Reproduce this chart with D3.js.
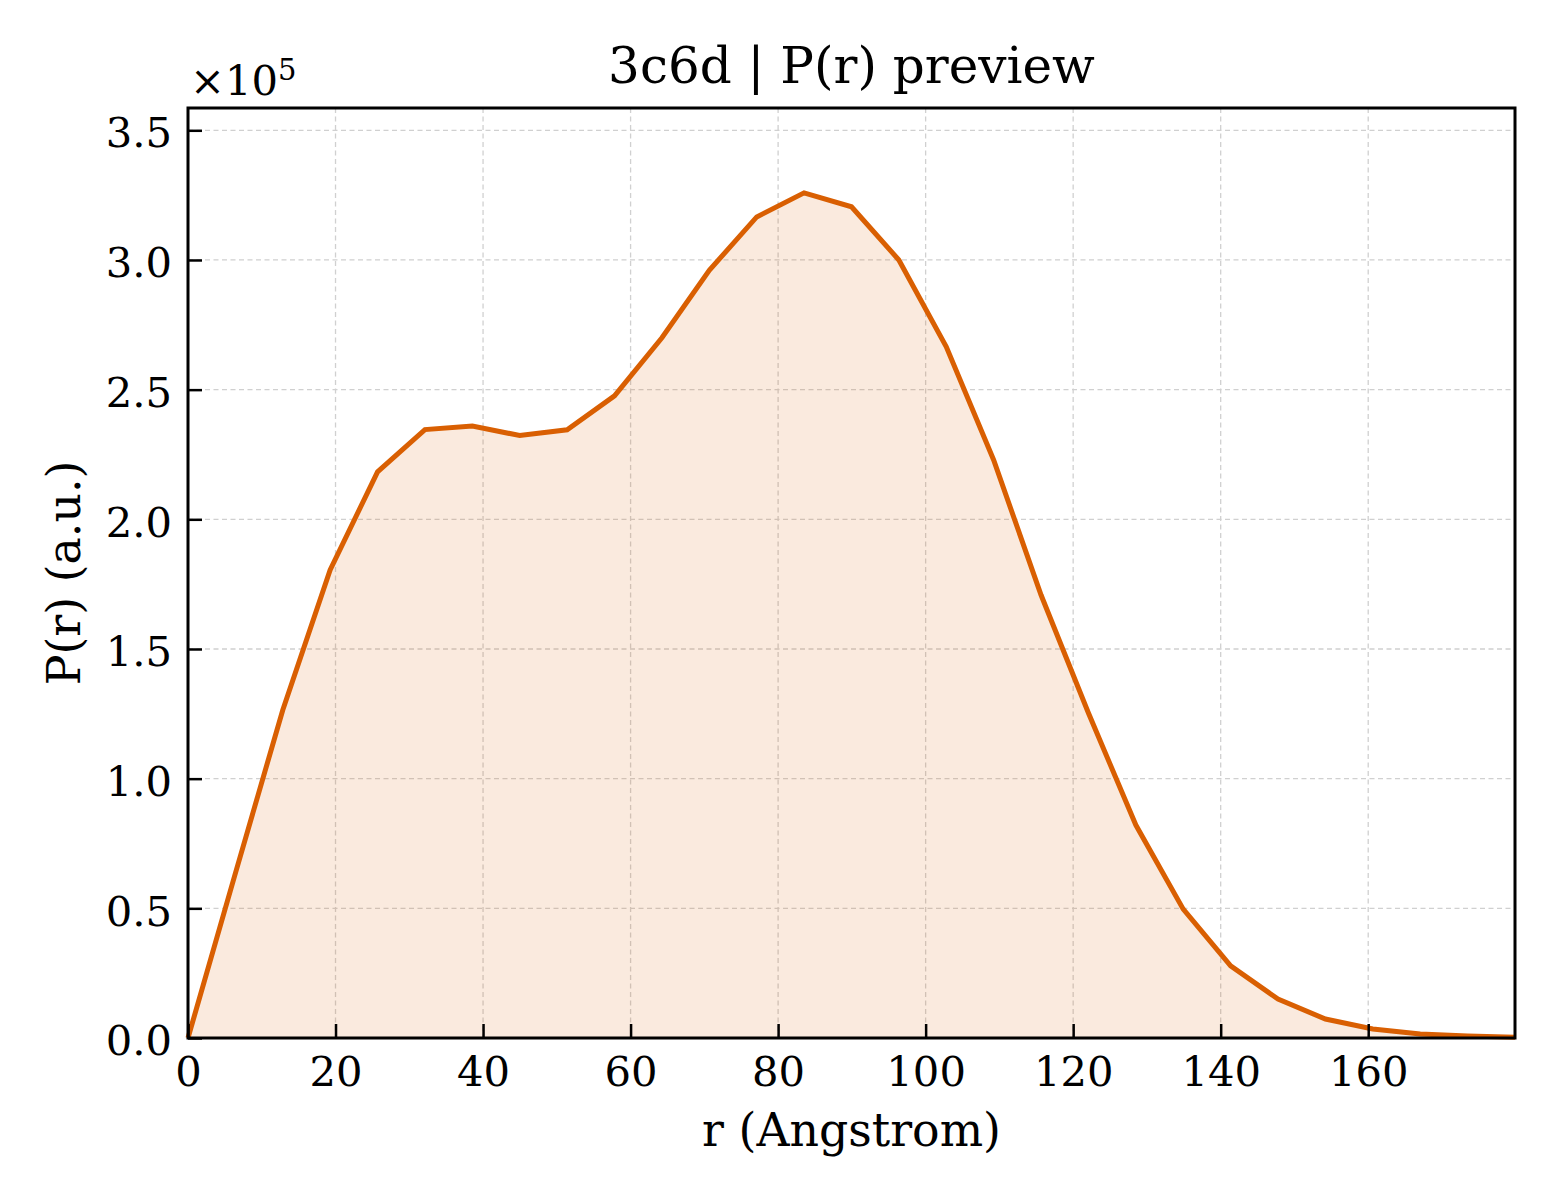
<!DOCTYPE html>
<html>
<head>
<meta charset="utf-8">
<script src="https://cdn.jsdelivr.net/npm/d3@7"></script>
<style>
  html, body { margin: 0; padding: 0; background: #fff; }
  svg { display: block; }
  text { font-family: "DejaVu Serif", serif; fill: #000; }
</style>
</head>
<body>
<svg id="chart" width="1560" height="1200"></svg>
<script>
// r grid (Angstrom)
const rValues = [0, 6.42, 12.85, 19.27, 25.70, 32.12, 38.55, 44.97, 51.40, 57.82,
  64.25, 70.67, 77.10, 83.52, 89.95, 96.37, 102.80, 109.22, 115.65, 122.07,
  128.50, 134.92, 141.35, 147.77, 154.20, 160.62, 167.05, 173.47, 179.90];
// P(r) values (a.u.)
const prValues = [0, 63500, 126500, 180500, 218300, 234600, 236000, 232300, 234500, 247600,
  270000, 296000, 316600, 325900, 320500, 300000, 266500, 222900, 170800, 125300,
  82100, 49700, 27800, 15000, 7300, 3500, 1500, 800, 300];
const xTicks = [0, 20, 40, 60, 80, 100, 120, 140, 160];
const yTicks = [0, 50000, 100000, 150000, 200000, 250000, 300000, 350000];
const yTickLabels = ["0.0", "0.5", "1.0", "1.5", "2.0", "2.5", "3.0", "3.5"];
const titleText = "3c6d | P(r) preview";
const xLabel = "r (Angstrom)";
const yLabel = "P(r) (a.u.)";

const data = rValues.map((r, i) => ({ r, p: prValues[i] }));

const margin = { left: 188, right: 1560 - 1515, top: 108, bottom: 1200 - 1038 };
const W = 1560, H = 1200;
const iw = W - margin.left - margin.right;
const ih = H - margin.top - margin.bottom;

const svg = d3.select("#chart");
const g = svg.append("g").attr("transform", `translate(${margin.left},${margin.top})`);

const x = d3.scaleLinear().domain([0, 179.9]).range([0, iw]);
const y = d3.scaleLinear().domain([0, 358600]).range([ih, 0]);

// grid
const grid = g.append("g");
grid.selectAll("line.gx").data(xTicks.slice(1)).join("line")
  .attr("x1", d => x(d)).attr("x2", d => x(d)).attr("y1", 0).attr("y2", ih)
  .attr("stroke", "#d0d0d0").attr("stroke-width", 1.3).attr("stroke-dasharray", "5,3.5");
grid.selectAll("line.gy").data(yTicks.slice(1)).join("line")
  .attr("x1", 0).attr("x2", iw).attr("y1", d => y(d)).attr("y2", d => y(d))
  .attr("stroke", "#d0d0d0").attr("stroke-width", 1.3).attr("stroke-dasharray", "5,3.5");

// area
const area = d3.area().x(d => x(d.r)).y0(y(0)).y1(d => y(d.p));
g.append("path").datum(data).attr("d", area)
  .attr("fill", "#d95f02").attr("fill-opacity", 0.13);

// line
const line = d3.line().x(d => x(d.r)).y(d => y(d.p));
g.append("path").datum(data).attr("d", line)
  .attr("fill", "none").attr("stroke", "#d95f02").attr("stroke-width", 5)
  .attr("stroke-linejoin", "miter");

// axes
const xAxis = d3.axisBottom(x).tickValues(xTicks).tickFormat(d3.format("d"))
  .tickSizeInner(-14).tickSizeOuter(0).tickPadding(18);
const yAxis = d3.axisLeft(y).tickValues(yTicks).tickFormat((d, i) => yTickLabels[i])
  .tickSizeInner(-14).tickSizeOuter(0).tickPadding(16);

const gx = g.append("g").attr("transform", `translate(0,${ih})`).call(xAxis);
const gy = g.append("g").call(yAxis);
[gx, gy].forEach(a => {
  a.select(".domain").remove();
  a.selectAll(".tick line").attr("stroke", "#000").attr("stroke-width", 2.5);
  a.selectAll(".tick text").style("font-family", "DejaVu Serif").style("font-size", "41.7px").attr("fill", "#000");
});
gy.selectAll(".tick text").attr("dy", "0.4em");

// frame
g.append("rect").attr("x", 0).attr("y", 0).attr("width", iw).attr("height", ih)
  .attr("fill", "none").attr("stroke", "#000").attr("stroke-width", 3);

// offset text
const off = svg.append("text").attr("x", 190).attr("y", 95).style("font-size", "41.7px");
off.append("tspan").text("×10");
off.append("tspan").attr("dy", -15).style("font-size", "29px").text("5");

// title
svg.append("text").attr("x", margin.left + iw / 2).attr("y", 83)
  .attr("text-anchor", "middle").style("font-size", "50px").text(titleText);

// x label
svg.append("text").attr("x", margin.left + iw / 2).attr("y", 1146)
  .attr("text-anchor", "middle").style("font-size", "45.8px").text(xLabel);

// y label
svg.append("text").attr("transform", `translate(80,${margin.top + ih / 2}) rotate(-90)`)
  .attr("text-anchor", "middle").style("font-size", "45.8px").text(yLabel);
</script>
</body>
</html>
